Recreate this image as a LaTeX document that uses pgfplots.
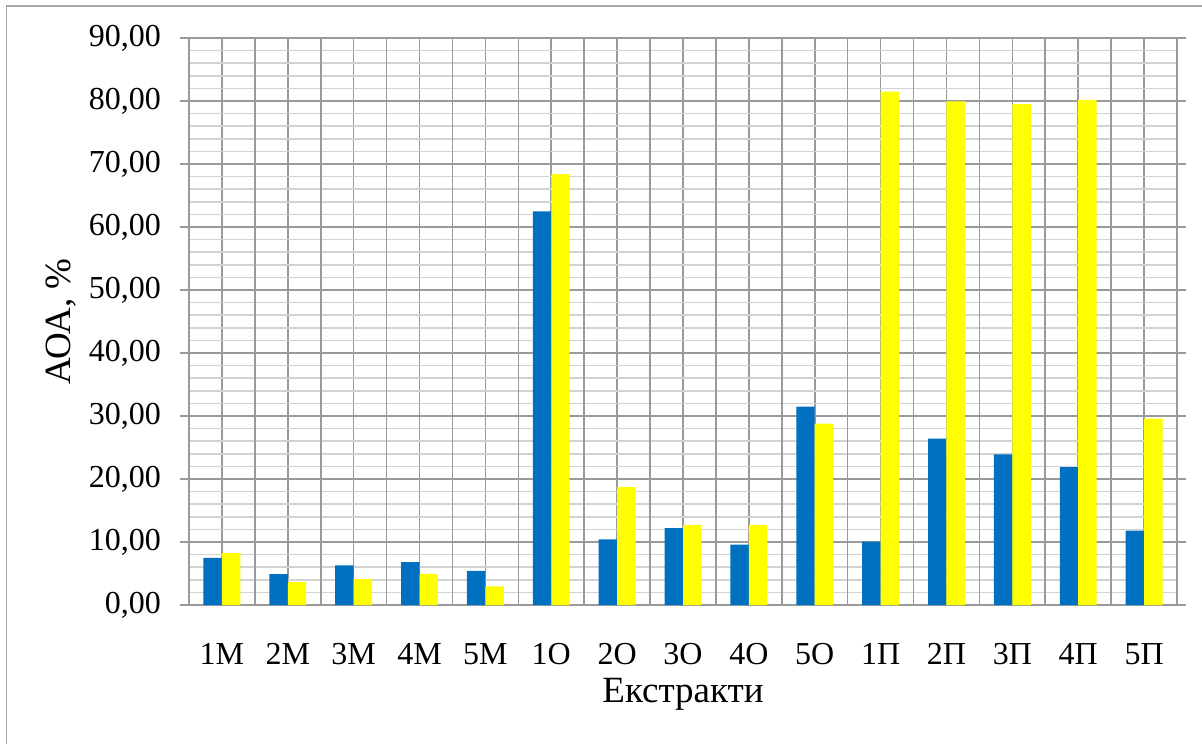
\documentclass[border=0pt]{standalone}
\usepackage{fontspec}
\setmainfont{Liberation Serif}
\usepackage{pgfplots}
\pgfplotsset{compat=1.18}
\definecolor{barblue}{HTML}{0070C0}
\definecolor{baryellow}{HTML}{FFFF00}
\definecolor{gridmajor}{HTML}{9A9A9A}
\definecolor{gridminor}{HTML}{D2D2D2}
\definecolor{framegray}{HTML}{A6A6A6}
\begin{document}
\begin{tikzpicture}[x=1pt,y=1pt]
\useasboundingbox (0,0) rectangle (601,371.5);
% outer chart frame (only left and top edges lie inside the page)
\draw[framegray, line width=0.9pt] (3.25,-2) -- (3.25,368.6) -- (603,368.6);
\begin{axis}[
  at={(94.5pt,69pt)}, anchor=south west,
  scale only axis,
  width=494pt, height=283.5pt,
  xmin=-0.5, xmax=14.5,
  ymin=0, ymax=90,
  ybar, bar width=0.28,
  axis line style={gridmajor, line width=0.8pt},
  font=\fontsize{16}{19}\selectfont,
  ytick={0,10,...,90},
  minor y tick num=4,
  ymajorgrids, yminorgrids,
  major grid style={gridmajor, line width=0.8pt},
  minor grid style={gridminor, line width=0.8pt},
  major tick length=4.5pt, minor tick length=0pt,
  tick align=outside,
  tick style={gridmajor, line width=0.8pt},
  xtick={0,...,14},
  xticklabels={1М,2М,3М,4М,5М,1О,2О,3О,4О,5О,1П,2П,3П,4П,5П},
  xmajorgrids,
  x tick style={draw=none},
  extra x ticks={-0.5,0.5,...,14.5},
  extra x tick labels={},
  extra x tick style={grid=major, major grid style={gridmajor, line width=0.8pt},
    tick style={gridmajor, line width=0.8pt, draw=gridmajor}},
  /pgf/number format/.cd, fixed, fixed zerofill, precision=2, use comma, assume math mode=true,
  /pgfplots/.cd,
  yticklabel style={anchor=east, xshift=-6pt},
  xticklabel style={anchor=base, yshift=-25pt},
  xlabel={Екстракти},
  ylabel={АОА, \%},
  label style={font=\fontsize{18.5}{22}\selectfont},
  xlabel style={at={(axis description cs:0.5,-0.1723)}, anchor=base},
  ylabel style={at={(axis description cs:-0.1296,0.5)}, anchor=center, rotate=0},
]
% Blue series
\addplot[fill=barblue, draw=none, bar shift=-0.14] coordinates {
  (0,7.5) (1,4.9) (2,6.3) (3,6.8) (4,5.4) (5,62.5) (6,10.4) (7,12.2)
  (8,9.6) (9,31.5) (10,10.05) (11,26.4) (12,23.9) (13,21.9) (14,11.8)};
% Yellow series
\addplot[fill=baryellow, draw=none, bar shift=0.14] coordinates {
  (0,8.25) (1,3.65) (2,4.1) (3,4.95) (4,2.95) (5,68.4) (6,18.7) (7,12.7)
  (8,12.7) (9,28.8) (10,81.5) (11,79.95) (12,79.5) (13,80.2) (14,29.6)};
\end{axis}
\end{tikzpicture}
\end{document}
